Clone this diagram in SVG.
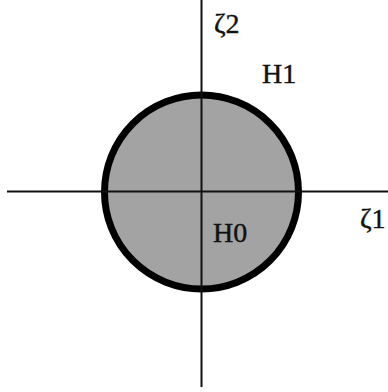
<svg xmlns="http://www.w3.org/2000/svg" width="388" height="392" viewBox="0 0 388 392">
<style>
.lbl{font-family:"Liberation Serif","Times New Roman",serif;font-size:28px;fill:#111;stroke:#111;stroke-width:0.4}
.ax{stroke:#111;stroke-width:2;fill:none}
</style>
<rect width="388" height="392" fill="#fff"/>
<g id="disk">
<circle cx="201.5" cy="192" r="97" fill="#a3a3a3" stroke="#000" stroke-width="7"/>
</g>
<g id="axes">
<line class="ax" x1="7" y1="191.5" x2="388" y2="191.5"/>
<line class="ax" x1="201.5" y1="0" x2="201.5" y2="387"/>
</g>
<g id="labels">
<text class="lbl" x="214" y="33">ζ2</text>
<text class="lbl" x="262" y="83">H1</text>
<text class="lbl" x="213" y="242">H0</text>
<text class="lbl" x="360" y="228">ζ1</text>
</g>
</svg>
